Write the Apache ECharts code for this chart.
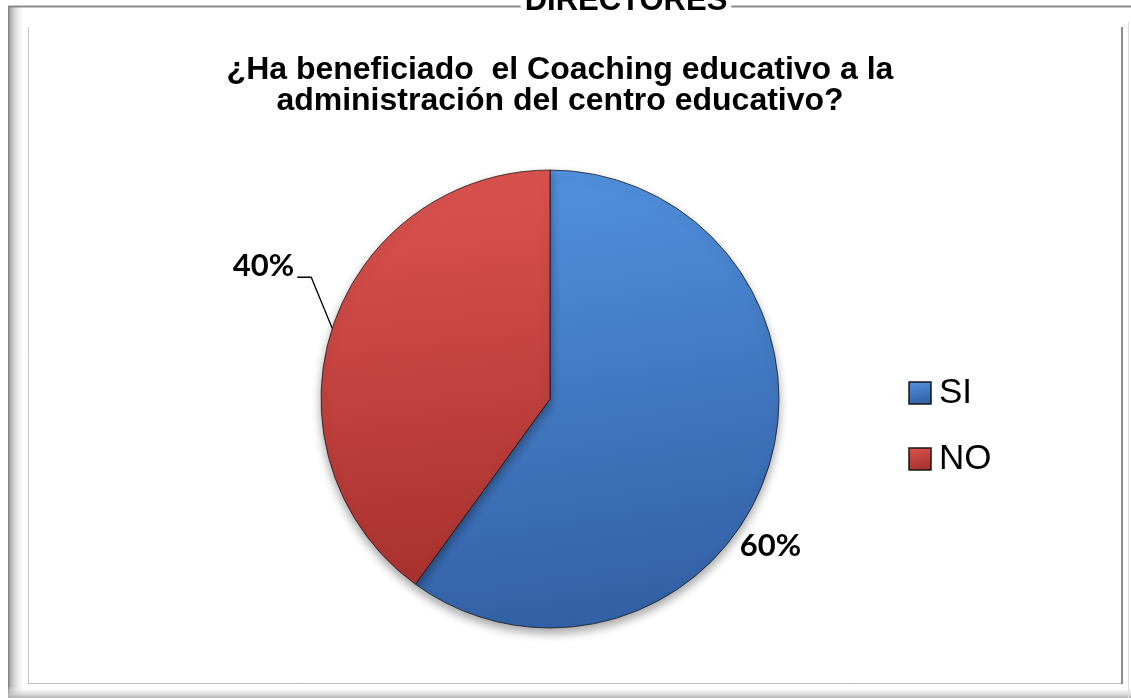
<!DOCTYPE html>
<html>
<head>
<meta charset="utf-8">
<script src="https://cdn.jsdelivr.net/npm/echarts@6/dist/echarts.min.js"></script>
<style>
  html, body { margin: 0; padding: 0; background: #ffffff; }
  #chart { width: 1131px; height: 698px; }
</style>
</head>
<body>
<div id="chart"></div>
<script>
// Survey answers (percent of directors)
const categories = ['SI', 'NO'];
const values = [60, 40];
const sheetTitle = 'DIRECTORES';
const chartTitle = '¿Ha beneficiado  el Coaching educativo a la\nadministración del centro educativo?';

// Pie geometry
const CX = 550, CY = 399, R = 229;

const fills = [
  { light: '#5393e0', dark: '#3361a6' },
  { light: '#de5450', dark: '#a8322f' }
];

function sliceColor(i) {
  return {
    type: 'linear', x: 0, y: 0, x2: 0.2, y2: 1,
    colorStops: [
      { offset: 0, color: fills[i].light },
      { offset: 1, color: fills[i].dark }
    ]
  };
}

// Mid-angle (clockwise from 12 o'clock) of a slice
function midAngle(idx) {
  const total = values.reduce((a, b) => a + b, 0);
  let acc = 0;
  for (let i = 0; i < idx; i++) acc += values[i];
  return ((acc + values[idx] / 2) / total) * 2 * Math.PI;
}
function edgePoint(idx) {
  const a = midAngle(idx);
  return [CX + R * Math.sin(a), CY - R * Math.cos(a)];
}

const chart = echarts.init(document.getElementById('chart'), null, { renderer: 'canvas' });

const option = {
  backgroundColor: '#ffffff',
  animation: false,
  title: {
    text: chartTitle,
    left: 555,
    top: 50,
    textAlign: 'center',
    textStyle: {
      fontFamily: 'Liberation Sans, Arial, sans-serif',
      fontWeight: 'bold',
      fontSize: 32,
      lineHeight: 31,
      color: '#000000'
    }
  },
  legend: {
    orient: 'vertical',
    left: 903,
    top: 366,
    icon: 'rect',
    itemWidth: 22,
    itemHeight: 22,
    itemGap: 22,
    textStyle: {
      fontFamily: 'Liberation Sans, Arial, sans-serif',
      fontSize: 35,
      lineHeight: 44,
      color: '#000000',
      padding: [0, 0, 0, 3]
    },
    data: categories
  },
  graphic: [
    // outer frame: left shading
    {
      type: 'rect', silent: true, z: -10,
      shape: { x: 8, y: 6, width: 18, height: 692 },
      style: {
        fill: {
          type: 'linear', x: 0, y: 0, x2: 1, y2: 0,
          colorStops: [
            { offset: 0, color: '#7a7a7a' },
            { offset: 0.15, color: '#b4b4b4' },
            { offset: 1, color: 'rgba(255,255,255,0)' }
          ]
        }
      }
    },
    // outer frame: bottom shading
    {
      type: 'rect', silent: true, z: -10,
      shape: { x: 8, y: 686, width: 1123, height: 12 },
      style: {
        fill: {
          type: 'linear', x: 0, y: 0, x2: 0, y2: 1,
          colorStops: [
            { offset: 0, color: 'rgba(255,255,255,0)' },
            { offset: 1, color: '#b0b0b0' }
          ]
        }
      }
    },
    // outer frame: top line
    {
      type: 'line', silent: true, z: -9,
      shape: { x1: 8, y1: 6.5, x2: 1131, y2: 6.5 },
      style: { stroke: '#8a8a8a', lineWidth: 2 }
    },
    // outer frame: right edge
    {
      type: 'line', silent: true, z: -9,
      shape: { x1: 1128.5, y1: 22, x2: 1128.5, y2: 698 },
      style: { stroke: '#dcdcdc', lineWidth: 1 }
    },
    // inner frame
    {
      type: 'line', silent: true, z: -9,
      shape: { x1: 28.5, y1: 27, x2: 28.5, y2: 683.5 },
      style: { stroke: '#c8c8c8', lineWidth: 1 }
    },
    {
      type: 'line', silent: true, z: -9,
      shape: { x1: 28, y1: 683.5, x2: 1122, y2: 683.5 },
      style: { stroke: '#bdbdbd', lineWidth: 1 }
    },
    {
      type: 'line', silent: true, z: -9,
      shape: { x1: 1122, y1: 27, x2: 1122, y2: 684 },
      style: { stroke: '#8c8c8c', lineWidth: 2 }
    },
    // sheet heading, partly cut at the top
    {
      type: 'text', silent: true, z: 5,
      x: 626, y: -14,
      style: {
        text: sheetTitle,
        fill: '#000000',
        backgroundColor: '#ffffff',
        padding: [0, 4],
        align: 'center',
        verticalAlign: 'top',
        fontFamily: 'Liberation Sans, Arial, sans-serif',
        fontWeight: 'bold',
        fontSize: 31
      }
    }
  ],
  series: [
    {
      type: 'pie',
      center: [CX, CY],
      radius: R,
      startAngle: 90,
      clockwise: true,
      avoidLabelOverlap: false,
      itemStyle: {
        borderColor: 'rgba(20,20,20,0.75)',
        borderWidth: 1,
        shadowBlur: 10,
        shadowOffsetY: 5,
        shadowColor: 'rgba(0,0,0,0.35)'
      },
      label: {
        show: true,
        position: 'outside',
        formatter: '{c}%',
        fontFamily: 'Lato, Liberation Sans, Arial, sans-serif',
        fontWeight: 'bold',
        fontSize: 31,
        color: '#000000'
      },
      labelLine: {
        show: true,
        lineStyle: { color: '#000000', width: 1.3 }
      },
      labelLayout: function (p) {
        const e = edgePoint(p.dataIndex);
        if (p.dataIndex === 1) {
          const elbow = [e[0] - 21, e[1] - 51];
          const end = [elbow[0] - 14, elbow[1]];
          return {
            x: end[0] - 3,
            y: end[1] - 11,
            align: 'right',
            verticalAlign: 'middle',
            labelLinePoints: [e, elbow, end]
          };
        }
        return {
          x: e[0] - 28,
          y: e[1] + 76,
          align: 'left',
          verticalAlign: 'middle'
        };
      },
      data: categories.map((name, i) => ({
        name: name,
        value: values[i],
        itemStyle: { color: sliceColor(i) },
        labelLine: { show: i === 1 }
      }))
    }
  ]
};

chart.setOption(option);
</script>
</body>
</html>
